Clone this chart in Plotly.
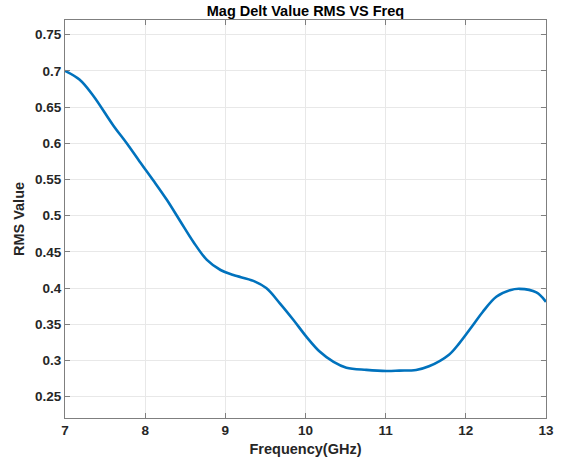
import plotly.graph_objects as go

# Frequency sweep (GHz) and RMS of the magnitude delta
freq_ghz = [7.0, 7.18, 7.35, 7.6, 7.77, 7.93, 8.10, 8.27, 8.44, 8.60, 8.77, 8.94,
            9.10, 9.35, 9.51, 9.68, 9.85, 10.01, 10.18, 10.35, 10.51, 10.76,
            11.01, 11.17, 11.38, 11.54, 11.79, 11.92, 12.09, 12.21, 12.38, 12.55,
            12.67, 12.88, 13.0]
rms_value = [0.700, 0.688, 0.666, 0.625, 0.600, 0.575, 0.549, 0.522, 0.492, 0.464,
             0.439, 0.425, 0.418, 0.410, 0.400, 0.379, 0.356, 0.333, 0.312, 0.298,
             0.290, 0.287, 0.2855, 0.286, 0.287, 0.292, 0.308, 0.324, 0.349, 0.367,
             0.388, 0.397, 0.399, 0.394, 0.381]

x_ticks = [7, 8, 9, 10, 11, 12, 13]
y_ticks = [0.25, 0.3, 0.35, 0.4, 0.45, 0.5, 0.55, 0.6, 0.65, 0.7, 0.75]
y_tick_text = ["0.25", "0.3", "0.35", "0.4", "0.45", "0.5", "0.55", "0.6", "0.65", "0.7", "0.75"]

FONT = "Liberation Sans, Arial, sans-serif"
TXT = "#262626"
AXIS = "#7f7f7f"
GRID = "#e8e8e8"

fig = go.Figure()
fig.add_trace(go.Scatter(
    x=freq_ghz, y=rms_value, mode="lines",
    line=dict(color="#0072BD", width=2.6, shape="spline", smoothing=1.0),
    showlegend=False,
))

axis_common = dict(
    showline=True, linecolor=AXIS, linewidth=1, mirror="ticks",
    ticks="inside", ticklen=5, tickcolor=AXIS, tickwidth=1,
    showgrid=True, gridcolor=GRID, gridwidth=1, zeroline=False,
    automargin=False,
    tickfont=dict(family=FONT, size=13.5, color=TXT, weight="bold"),
)

fig.update_xaxes(
    range=[7, 13], tickvals=x_ticks,
    title=dict(text="Frequency(GHz)", standoff=6,
               font=dict(family=FONT, size=14.5, color=TXT, weight="bold")),
    **axis_common,
)
fig.update_yaxes(
    range=[0.2206, 0.7703], tickvals=y_ticks, ticktext=y_tick_text,
    title=dict(text="RMS Value", standoff=6,
               font=dict(family=FONT, size=14.5, color=TXT, weight="bold")),
    **axis_common,
)

fig.update_layout(
    width=563, height=463,
    margin=dict(l=65, r=17, t=20, b=45),
    paper_bgcolor="white", plot_bgcolor="white",
    title=dict(text="Mag Delt Value RMS VS Freq", x=0.5426, xanchor="center",
               y=1 - 11 / 463, yanchor="middle",
               font=dict(family=FONT, size=14.5, color="black", weight="bold")),
)

fig.write_html("out.html")
